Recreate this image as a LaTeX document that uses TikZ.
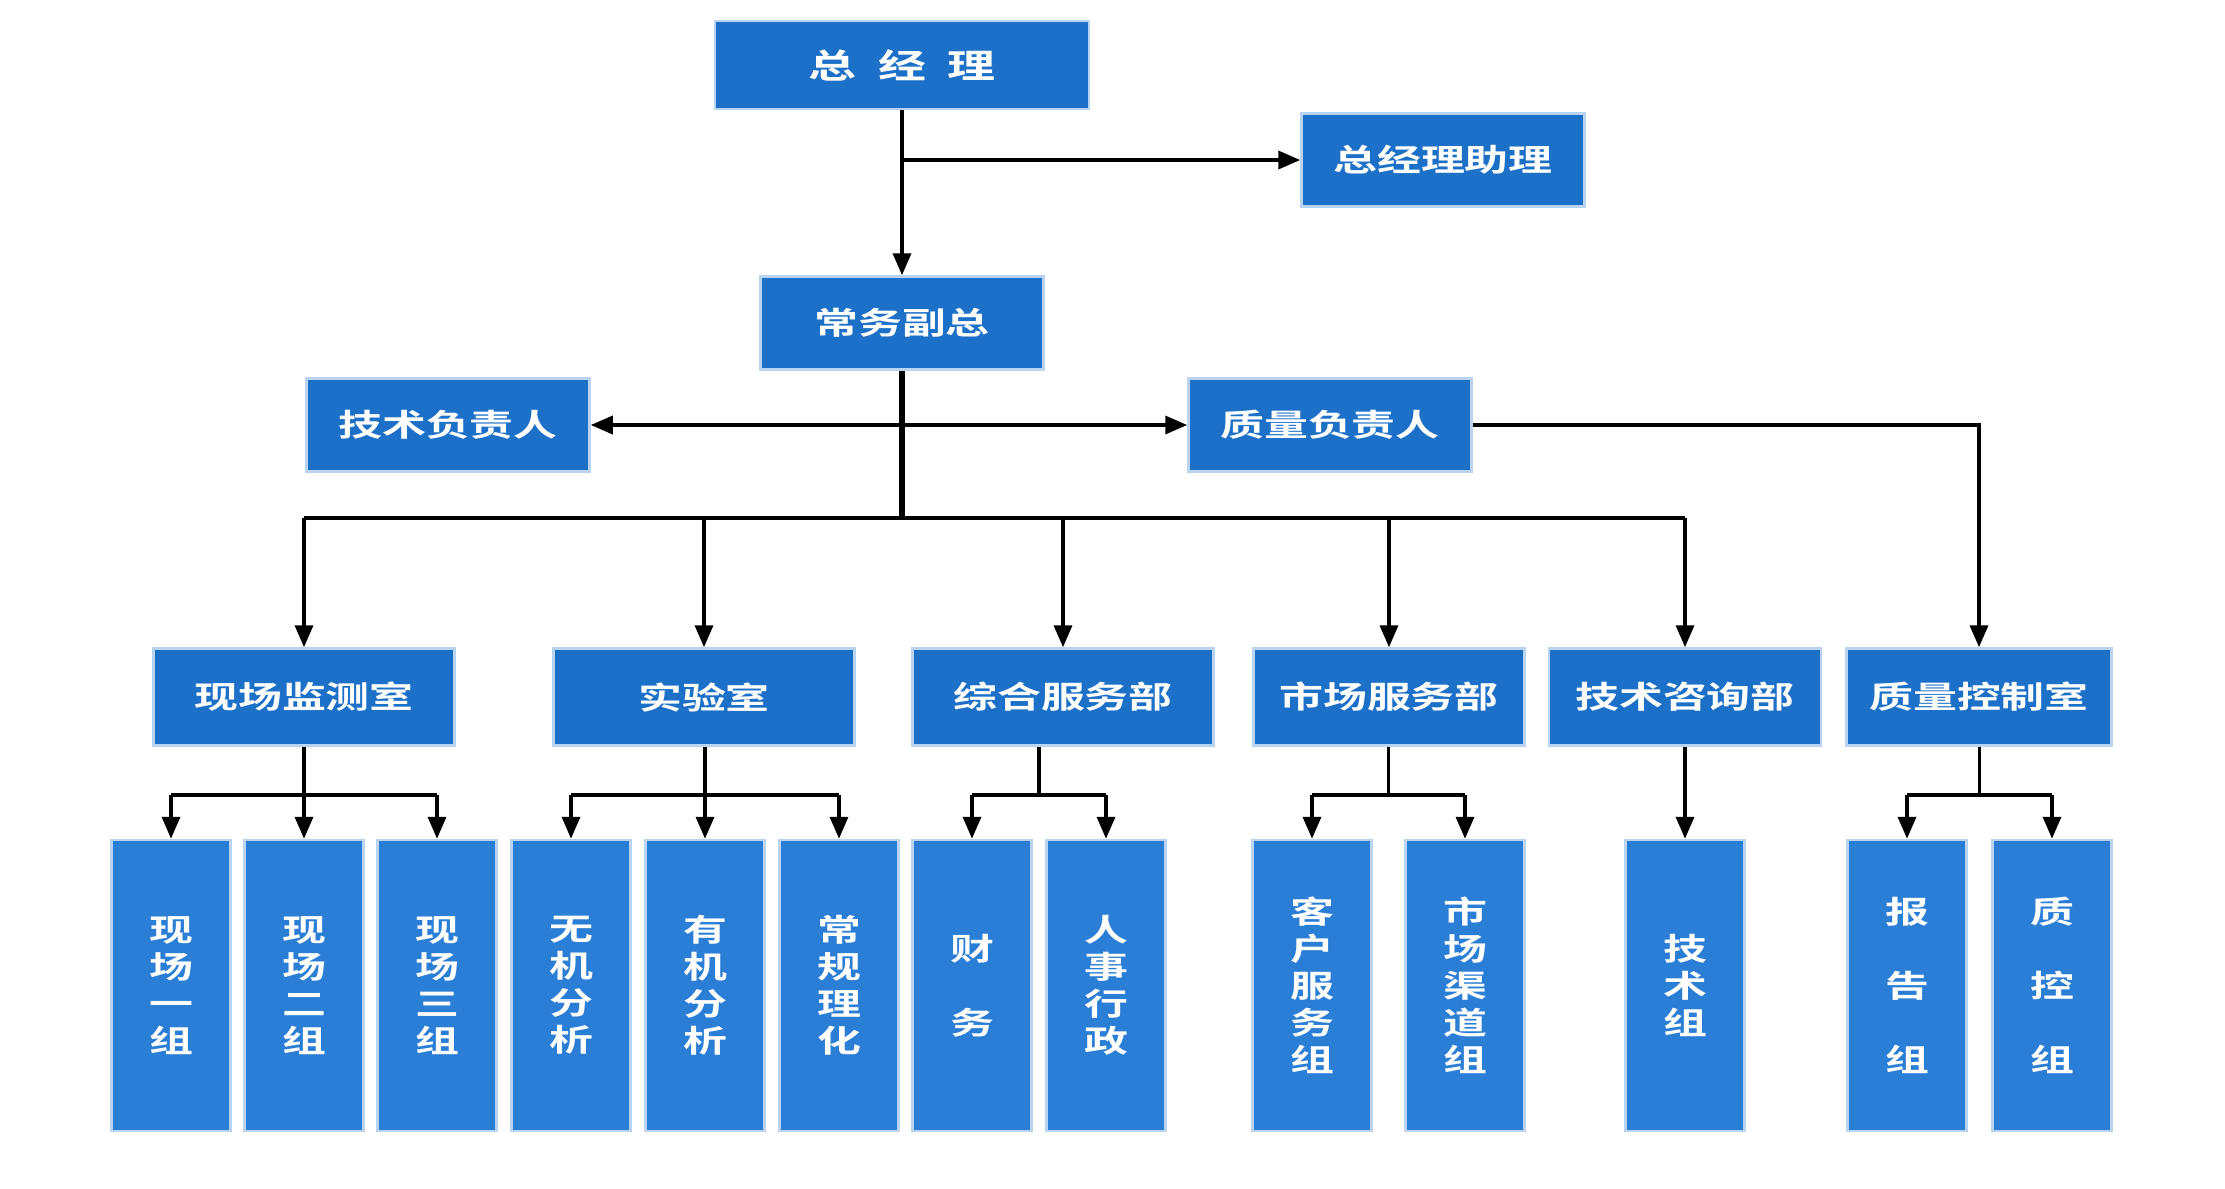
\documentclass[tikz,border=0pt]{standalone}
\usepackage{fontspec}
\newfontfamily\cjk[FakeStretch=1.42]{Noto Sans CJK SC Bold}
\usetikzlibrary{arrows.meta,calc}

\definecolor{boxblue}{HTML}{1C70C8}
\definecolor{grpblue}{HTML}{2A7ED6}
\definecolor{boxedge}{HTML}{B8D4F0}

\begin{document}
\begin{tikzpicture}[
    > = {Triangle[length=0.22cm,width=0.18cm]}, % arrow head style
    line width = 0.035cm % connector width
    ]

    \tikzset{
    box/.style = {fill=boxblue, draw=boxedge, line width=0.025cm, text=white,
        inner sep=0pt, font=\cjk\fontsize{8.8}{10.5}\selectfont},
    lead/.style = {box, minimum width=2.83cm, minimum height=0.93cm},
    dept/.style = {box, minimum height=0.97cm},
    grp/.style = {box, fill=grpblue, minimum width=1.19cm,
        minimum height=2.91cm, align=center}
    }

    \useasboundingbox (0,0) rectangle (22.25,-11.89);

    % top levels
    \node[box, minimum width=3.74cm, minimum height=0.88cm,
        font=\cjk\fontsize{9.6}{11}\selectfont] (gm) at (9.02,-0.65)
        {总\hspace{0.22cm}经\hspace{0.22cm}理};
    \node[lead] (asst) at (14.43,-1.60) {总经理助理};
    \node[lead] (vp) at (9.02,-3.23) {常务副总};
    \node[lead] (tech) at (4.48,-4.25) {技术负责人};
    \node[lead] (qual) at (13.30,-4.25) {质量负责人};

    % departments
    \node[dept, minimum width=3.01cm] (xc) at (3.04,-6.97) {现场监测室};
    \node[dept, minimum width=3.01cm] (lab) at (7.04,-6.97) {实验室};
    \node[dept, minimum width=3.01cm] (zh) at (10.63,-6.97) {综合服务部};
    \node[dept, minimum width=2.71cm] (sc) at (13.89,-6.97) {市场服务部};
    \node[dept, minimum width=2.72cm] (zx) at (16.85,-6.97) {技术咨询部};
    \node[dept, minimum width=2.65cm] (qc) at (19.79,-6.97) {质量控制室};

    % groups
    \node[grp] (x1) at (1.71,-9.855) {现\\场\\一\\组};
    \node[grp] (x2) at (3.04,-9.855) {现\\场\\二\\组};
    \node[grp] (x3) at (4.37,-9.855) {现\\场\\三\\组};
    \node[grp] (l1) at (5.71,-9.855) {无\\机\\分\\析};
    \node[grp] (l2) at (7.05,-9.855) {有\\机\\分\\析};
    \node[grp] (l3) at (8.39,-9.855) {常\\规\\理\\化};
    \node[grp] (z1) at (9.72,-9.855) {财\\[10.5pt]务};
    \node[grp] (z2) at (11.06,-9.855) {人\\事\\行\\政};
    \node[grp] (s1) at (13.12,-9.855) {客\\户\\服\\务\\组};
    \node[grp] (s2) at (14.65,-9.855) {市\\场\\渠\\道\\组};
    \node[grp] (j1) at (16.85,-9.855) {技\\术\\组};
    \node[grp] (q1) at (19.07,-9.855) {报\\[10.5pt]告\\[10.5pt]组};
    \node[grp] (q2) at (20.52,-9.855) {质\\[10.5pt]控\\[10.5pt]组};

    \coordinate (bus) at (0,-5.18);
    \coordinate (fork) at (0,-7.95);

    \draw[->] (gm) -- (vp);
    \draw[->] (gm |- asst) -- (asst);
    \draw[<->] (tech) -- (qual);
    \draw[line width=0.06cm] (vp) -- (vp |- bus);
    \draw (xc |- bus) -- (zx |- bus);
    \foreach \d in {xc,lab,zh,sc,zx}
        \draw[->] (\d |- bus) -- (\d);
    \draw[->] (qual) -| (qc);

    \foreach \p/\a/\b in {xc/x1/x3, lab/l1/l3, zh/z1/z2, sc/s1/s2, qc/q1/q2} {
        \coordinate (m) at ($(\a)!0.5!(\b)$);
        \draw (m |- \p.south) -- (m |- fork);
        \draw (\a |- fork) -- (\b |- fork);
    }
    \foreach \c in {x1,x2,x3,l1,l2,l3,z1,z2,s1,s2,q1,q2}
        \draw[->] (\c |- fork) -- (\c);
    \draw[->] (zx) -- (j1);

\end{tikzpicture}
\end{document}
